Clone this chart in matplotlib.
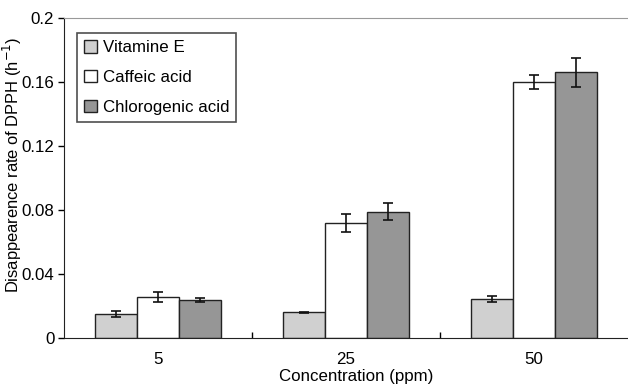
import matplotlib
matplotlib.use('Agg')
import matplotlib.pyplot as plt
import numpy as np

plt.rcParams.update({
    'font.family': 'Liberation Sans',
    'font.size': 12.2,
})

# Dados
concentrations = ['5', '25', '50']
series = ['Vitamine E', 'Caffeic acid', 'Chlorogenic acid']
vitamine_e = [0.0150, 0.0160, 0.0244]
vitamine_e_err = [0.0020, 0.0005, 0.0020]
caffeic = [0.0256, 0.0717, 0.1600]
caffeic_err = [0.0033, 0.0056, 0.0043]
chlorogenic = [0.0238, 0.0788, 0.1660]
chlorogenic_err = [0.0013, 0.0053, 0.0090]

colors = ['#d0d0d0', '#ffffff', '#969696']

fig = plt.figure(figsize=(6.28, 3.89), dpi=100)
ax = fig.add_axes([0.102, 0.131, 0.898, 0.823])

x = np.arange(len(concentrations))
width = 0.222
values = [vitamine_e, caffeic, chlorogenic]
errors = [vitamine_e_err, caffeic_err, chlorogenic_err]

for i, (vals, errs, name, c) in enumerate(zip(values, errors, series, colors)):
    ax.bar(x + (i - 1) * width, vals, width, yerr=errs, label=name,
           color=c, edgecolor='#222222', linewidth=1.0,
           error_kw=dict(ecolor='#111111', elinewidth=1.2, capsize=3.5, capthick=1.2))

ax.set_xlim(-0.5, len(concentrations) - 0.5)
ax.set_ylim(0, 0.2)
ax.set_yticks([0, 0.04, 0.08, 0.12, 0.16, 0.2])
ax.set_yticklabels(['0', '0.04', '0.08', '0.12', '0.16', '0.2'])
ax.set_xticks(x)
ax.set_xticklabels(concentrations)
ax.tick_params(axis='x', length=0, pad=10)
ax.tick_params(axis='y', direction='out', length=4, width=1, pad=3)
ax.set_xticks(np.arange(0.5, len(concentrations) - 0.5, 1), minor=True)
ax.tick_params(axis='x', which='minor', direction='in', length=4, width=1)

ax.spines['top'].set_color('#999999')
ax.spines['right'].set_visible(False)
ax.spines['left'].set_color('#222222')
ax.spines['bottom'].set_color('#222222')

ax.set_xlabel('Concentration (ppm)')
ax.xaxis.set_label_coords(0.518, -0.098)
ax.set_ylabel('Disappearence rate of DPPH (h$^{-1}$)', fontsize=11.9)
ax.yaxis.set_label_coords(-0.071, 0.54)

leg = ax.legend(loc='upper left', bbox_to_anchor=(0.023, 0.952), frameon=True,
                fancybox=False, edgecolor='#222222', handlelength=0.75,
                handleheight=0.75, handletextpad=0.35, borderpad=0.42,
                labelspacing=0.86, borderaxespad=0)
leg.get_frame().set_linewidth(1.2)

fig.savefig('out.png', dpi=100)
